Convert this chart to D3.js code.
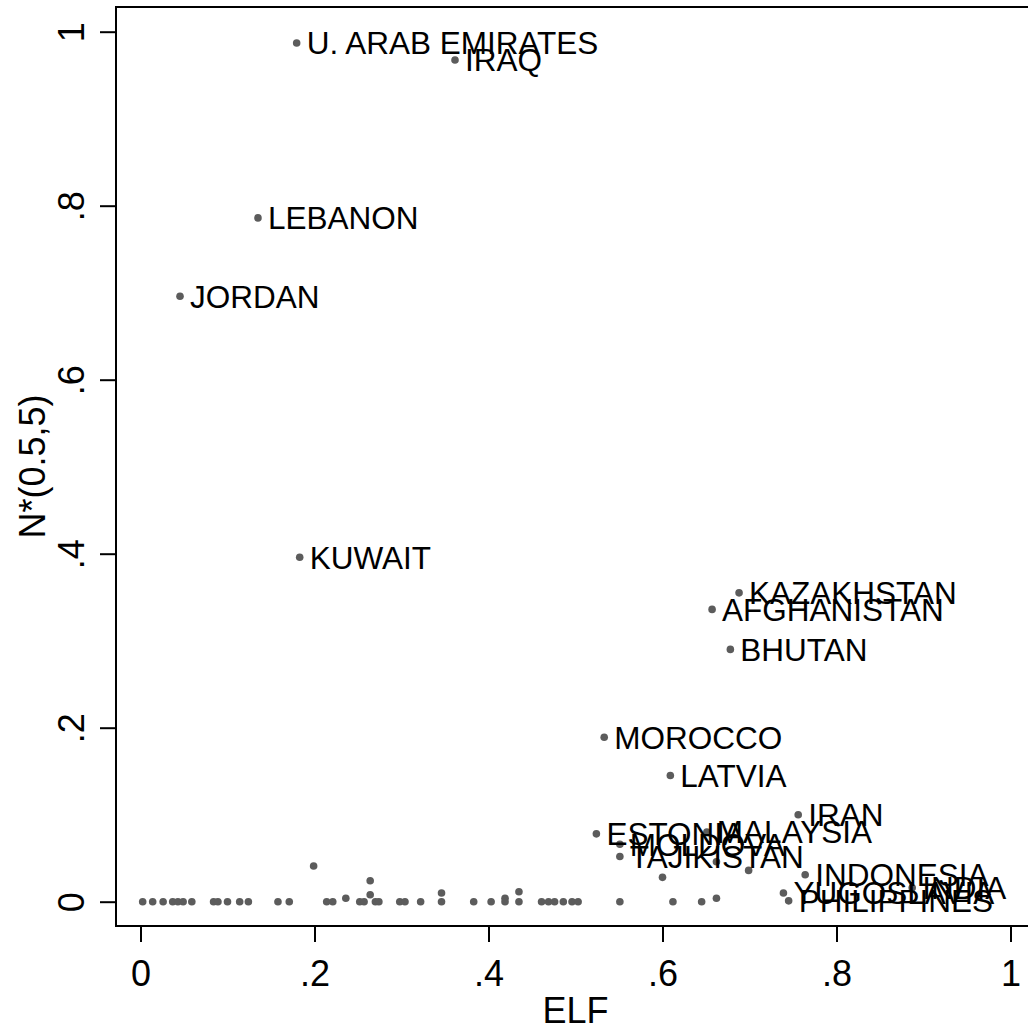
<!DOCTYPE html>
<html>
<head>
<meta charset="utf-8">
<script src="https://cdn.jsdelivr.net/npm/d3@7"></script>
<style>
  body { margin: 0; background: #fff; }
  svg { display: block; font-family: "Liberation Sans", Arial, sans-serif; }
</style>
</head>
<body>
<div id="chart"></div>
<script>
// labelled countries
const countries = ["U. ARAB EMIRATES", "IRAQ", "LEBANON", "JORDAN", "KUWAIT",
  "KAZAKHSTAN", "AFGHANISTAN", "BHUTAN", "MOROCCO", "LATVIA", "IRAN",
  "ESTONIA", "MALAYSIA", "MOLDOVA", "TAJIKISTAN", "INDONESIA",
  "YUGOSLAVIA", "PHILIPPINES", "INDIA"];
const countryElf = [0.1795, 0.3615, 0.135, 0.0454, 0.183,
  0.688, 0.657, 0.678, 0.533, 0.609, 0.756,
  0.524, 0.651, 0.551, 0.551, 0.764,
  0.739, 0.745, 0.887];
const countryN = [0.987, 0.9675, 0.786, 0.696, 0.396,
  0.355, 0.336, 0.290, 0.189, 0.145, 0.100,
  0.078, 0.080, 0.066, 0.052, 0.031,
  0.010, 0.001, 0.016];

// unlabelled countries
const otherElf = [0.199, 0.264, 0.236, 0.264, 0.346, 0.419, 0.435, 0.600, 0.662, 0.699, 0.662,
  0.0025, 0.014, 0.026, 0.037, 0.043, 0.049, 0.059, 0.084, 0.089, 0.100, 0.114, 0.124,
  0.158, 0.171, 0.214, 0.221, 0.252, 0.257, 0.270, 0.274, 0.298, 0.304, 0.322, 0.346,
  0.383, 0.403, 0.419, 0.435, 0.461, 0.469, 0.476, 0.486, 0.496, 0.503, 0.551, 0.612, 0.645];
const otherN = [0.041, 0.024, 0.004, 0.008, 0.010, 0.004, 0.0115, 0.028, 0.046, 0.036, 0.004,
  0, 0, 0, 0, 0, 0, 0, 0, 0, 0, 0, 0,
  0, 0, 0, 0, 0, 0, 0, 0, 0, 0, 0, 0,
  0, 0, 0, 0, 0, 0, 0, 0, 0, 0, 0, 0, 0];

const tickValues = [0, 0.2, 0.4, 0.6, 0.8, 1];
const tickLabels = ["0", ".2", ".4", ".6", ".8", "1"];

const W = 1028, H = 1032;
const frame = { left: 116, top: 7, bottom: 926 };

const svg = d3.select("#chart").append("svg")
    .attr("width", W)
    .attr("height", H);

const x = d3.scaleLinear().domain([0, 1]).range([140.5, 1010.5]);
const y = d3.scaleLinear().domain([0, 1]).range([901.7, 31.7]);

// plot frame (right edge falls outside the picture)
svg.append("path")
    .attr("d", `M${W + 10},${frame.top} H${frame.left} V${frame.bottom} H${W + 10}`)
    .attr("fill", "none")
    .attr("stroke", "#000")
    .attr("stroke-width", 2);

// axes
const fmt = d => tickLabels[tickValues.indexOf(d)];
const xAxis = svg.append("g")
    .attr("transform", `translate(0,${frame.bottom})`)
    .call(d3.axisBottom(x).tickValues(tickValues).tickFormat(fmt).tickSize(16).tickPadding(18));
const yAxis = svg.append("g")
    .attr("transform", `translate(${frame.left},0)`)
    .call(d3.axisLeft(y).tickValues(tickValues).tickFormat(fmt).tickSize(16).tickPadding(0));

[xAxis, yAxis].forEach(g => {
  g.select(".domain").remove();
  g.selectAll(".tick line").attr("stroke", "#000").attr("stroke-width", 2);
  g.selectAll(".tick text")
      .attr("fill", "#000")
      .style("font-family", "Liberation Sans, Arial, sans-serif")
      .style("font-size", "36px");
});
xAxis.selectAll(".tick text").attr("dy", "0.71em");
yAxis.selectAll(".tick text")
    .attr("x", null).attr("dy", null)
    .attr("text-anchor", "middle")
    .attr("transform", "translate(-32,0) rotate(-90)");

// axis titles
svg.append("text")
    .attr("x", (x(0) + x(1)) / 2)
    .attr("y", 1023)
    .attr("text-anchor", "middle")
    .style("font-size", "36px")
    .text("ELF");
svg.append("text")
    .attr("transform", `translate(45,${(frame.top + frame.bottom) / 2}) rotate(-90)`)
    .attr("text-anchor", "middle")
    .style("font-size", "36px")
    .text("N*(0.5,5)");

// points
const dotColor = "#5c5c5c";
svg.append("g").selectAll("circle")
    .data(d3.zip(otherElf, otherN))
    .join("circle")
    .attr("cx", d => x(d[0]))
    .attr("cy", d => y(d[1]))
    .attr("r", 3.8)
    .attr("fill", dotColor);

const labelled = countries.map((c, i) => ({ name: c, elf: countryElf[i], n: countryN[i] }));
svg.append("g").selectAll("circle")
    .data(labelled)
    .join("circle")
    .attr("cx", d => x(d.elf))
    .attr("cy", d => y(d.n))
    .attr("r", 3.8)
    .attr("fill", dotColor);

svg.append("g").selectAll("text")
    .data(labelled)
    .join("text")
    .attr("x", d => x(d.elf) + 10)
    .attr("y", d => y(d.n))
    .attr("dy", "0.36em")
    .style("font-size", "31.5px")
    .attr("fill", "#000")
    .text(d => d.name);
</script>
</body>
</html>
